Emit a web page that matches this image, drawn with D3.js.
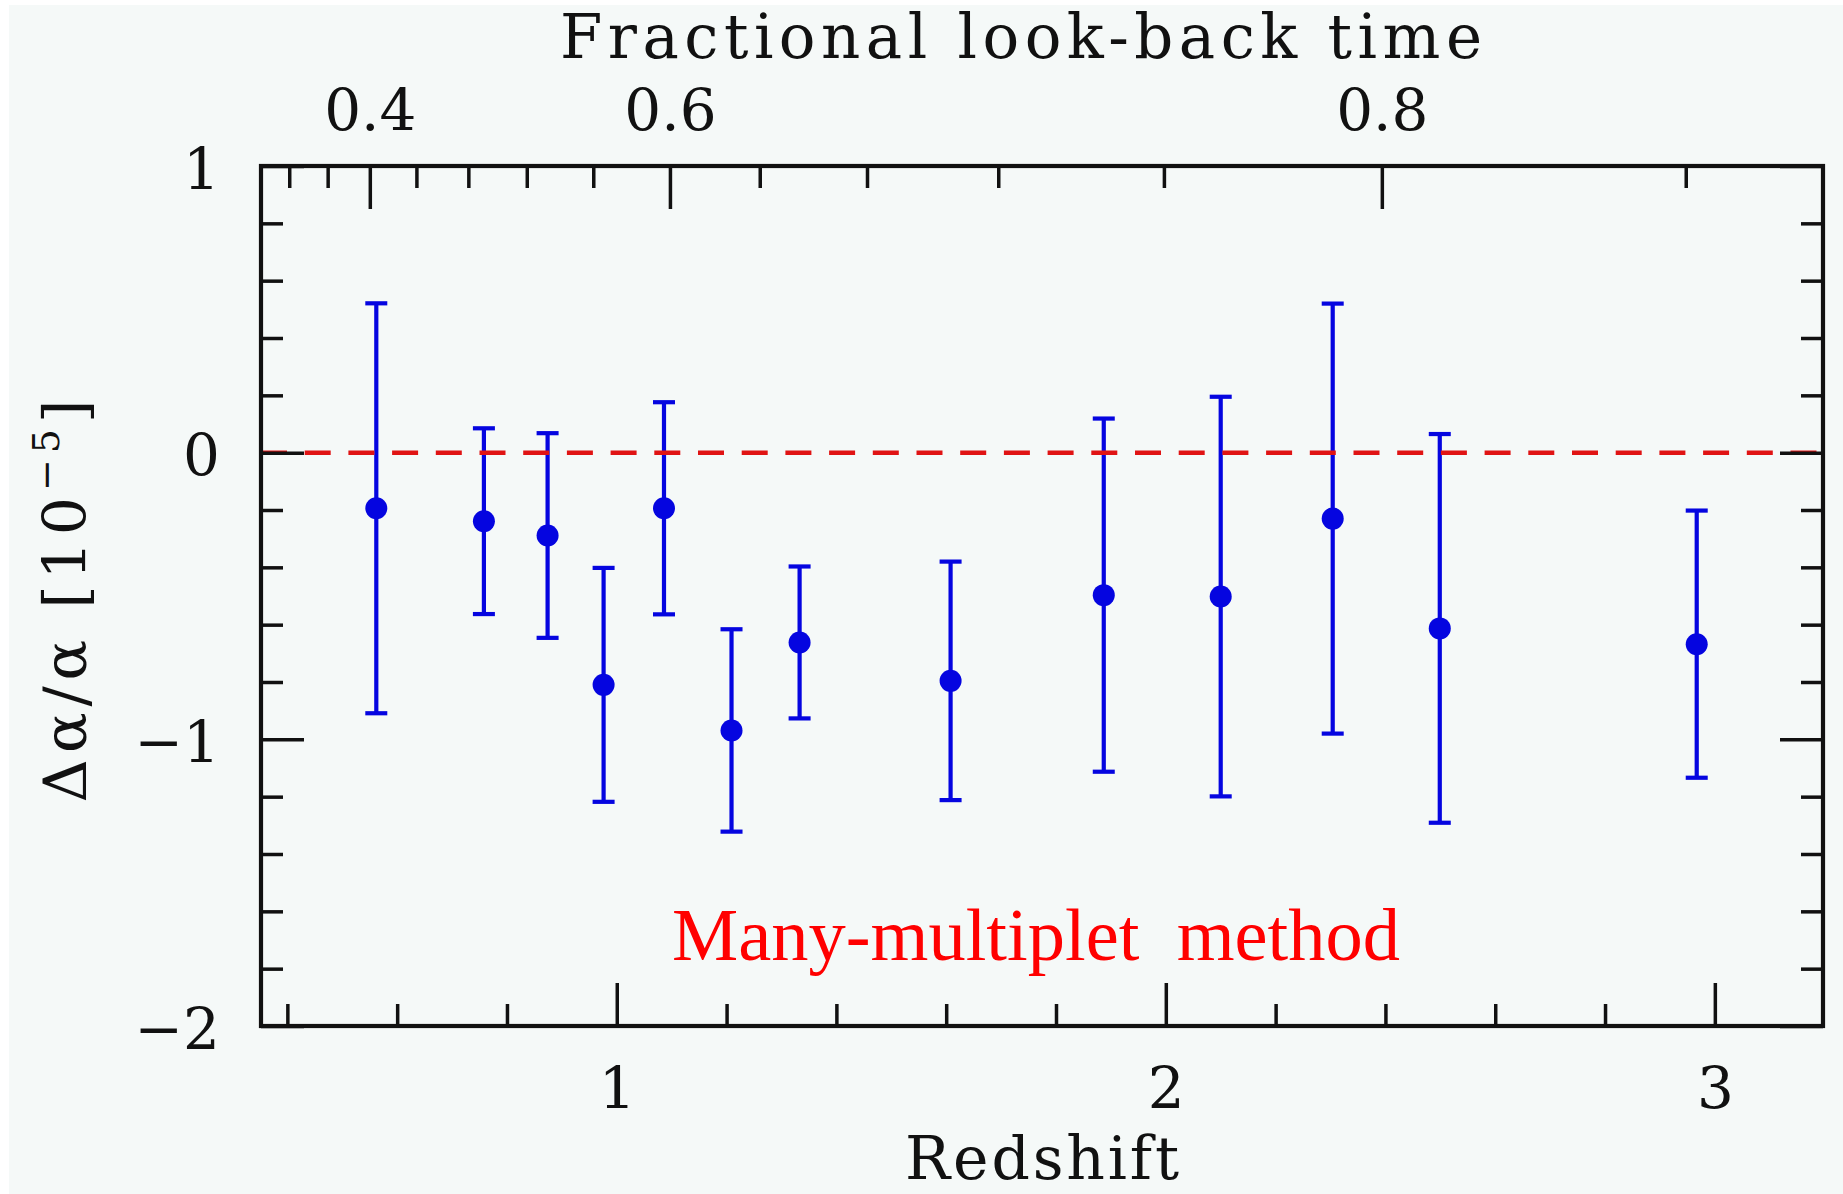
<!DOCTYPE html>
<html>
<head>
<meta charset="utf-8">
<script src="https://cdn.jsdelivr.net/npm/d3@7"></script>
<style>
  html, body { margin: 0; padding: 0; background: #ffffff; }
  svg { display: block; }
  text { font-family: "DejaVu Serif", serif; fill: #111; }
</style>
</head>
<body>
<svg id="chart" width="1843" height="1194"></svg>
<script>
// ---------------- data ----------------
const redshift = [0.562, 0.758, 0.874, 0.976, 1.086, 1.209, 1.333, 1.608, 1.887, 2.100, 2.304, 2.499, 2.967];
const dAlpha   = [-0.194, -0.239, -0.289, -0.810, -0.194, -0.969, -0.662, -0.796, -0.497, -0.502, -0.230, -0.613, -0.668];
const sigma    = [0.715, 0.324, 0.357, 0.408, 0.370, 0.353, 0.265, 0.416, 0.616, 0.697, 0.750, 0.678, 0.466];

// axis ticks
const zMajorTicks = [1, 2, 3];
const zMinorTicks = [0.4, 0.6, 0.8, 1.2, 1.4, 1.6, 1.8, 2.2, 2.4, 2.6, 2.8];
const yMajorTicks = [-2, -1, 0, 1];
const yMinorTicks = [-1.8, -1.6, -1.4, -1.2, -0.8, -0.6, -0.4, -0.2, 0.2, 0.4, 0.6, 0.8];
const lookbackMajorTicks = [0.4, 0.6, 0.8];
const lookbackMinorTicks = [0.32, 0.36, 0.44, 0.48, 0.52, 0.56, 0.64, 0.68, 0.72, 0.76, 0.84];

// texts
const topTitle = "Fractional look-back time";
const bottomTitle = "Redshift";
const methodLabel = "Many-multiplet  method";

// ---------------- layout ----------------
const W = 1843, H = 1194;
const L = 261, R = 1823, T = 166, B = 1026;

const svg = d3.select("#chart");
svg.append("rect").attr("x", 9).attr("y", 5).attr("width", W - 9).attr("height", H - 5).attr("fill", "#f5f9f8");

const x = d3.scaleLinear().domain([0.352, 3.197]).range([L, R]);
const y = d3.scaleLinear().domain([-2, 1]).range([B, T]);

// flat LCDM (Om=0.3, OL=0.7) mapping of fractional look-back time to redshift (top axis transform)
const Om = 0.3, OL = 0.7;
const kk = Math.sqrt(OL / Om), A = Math.asinh(kk);
const lookbackToZ = f => Math.pow(Math.sinh((1 - f) * A) / kk, -2 / 3) - 1;

const blue = "#0505e0";
const fmt = d => d < 0 ? "\u2212" + Math.abs(d) : String(d);

// ---------------- error bars & points ----------------
const pts = redshift.map((z, i) => ({ z, v: dAlpha[i], e: sigma[i] }));
const gErr = svg.append("g").attr("stroke", blue).attr("stroke-width", 4.2).attr("fill", "none");
gErr.selectAll("line.v").data(pts).join("line").attr("class", "v")
  .attr("x1", d => x(d.z)).attr("x2", d => x(d.z))
  .attr("y1", d => y(d.v + d.e)).attr("y2", d => y(d.v - d.e));
gErr.selectAll("line.ct").data(pts).join("line").attr("class", "ct")
  .attr("x1", d => x(d.z) - 11).attr("x2", d => x(d.z) + 11)
  .attr("y1", d => y(d.v + d.e)).attr("y2", d => y(d.v + d.e));
gErr.selectAll("line.cb").data(pts).join("line").attr("class", "cb")
  .attr("x1", d => x(d.z) - 11).attr("x2", d => x(d.z) + 11)
  .attr("y1", d => y(d.v - d.e)).attr("y2", d => y(d.v - d.e));

// zero line
svg.append("line")
  .attr("x1", L).attr("x2", R).attr("y1", y(0)).attr("y2", y(0))
  .attr("stroke", "#e01414").attr("stroke-width", 4.5).attr("stroke-dasharray", "26 17.7");

svg.append("g").selectAll("circle").data(pts).join("circle")
  .attr("cx", d => x(d.z)).attr("cy", d => y(d.v)).attr("r", 11).attr("fill", blue);

// ---------------- axes (ticks inward) ----------------
function styleAxis(g) {
  g.select(".domain").remove();
  g.selectAll(".tick line").attr("stroke", "#111").attr("stroke-width", 3.5);
  g.selectAll(".tick text").attr("fill", "#111").style("font-family", "DejaVu Serif").attr("font-size", 58);
}
const minorLen = 22, majorLen = 43;

// bottom
svg.append("g").attr("transform", `translate(0,${B})`)
  .call(d3.axisBottom(x).tickValues(zMinorTicks).tickSize(-minorLen).tickFormat(""))
  .call(styleAxis);
const gb = svg.append("g").attr("transform", `translate(0,${B})`)
  .call(d3.axisBottom(x).tickValues(zMajorTicks).tickSize(-majorLen).tickFormat(fmt))
  .call(styleAxis);
gb.selectAll(".tick text").attr("y", 82).attr("dy", 0);

// top (fractional look-back time)
svg.append("g").attr("transform", `translate(0,${T})`)
  .call(d3.axisTop(x).tickValues(lookbackMinorTicks.map(lookbackToZ)).tickSize(-minorLen).tickFormat(""))
  .call(styleAxis);
const gt = svg.append("g").attr("transform", `translate(0,${T})`)
  .call(d3.axisTop(x).tickValues(lookbackMajorTicks.map(lookbackToZ)).tickSize(-majorLen)
    .tickFormat((d, i) => lookbackMajorTicks[i].toFixed(1)))
  .call(styleAxis);
gt.selectAll(".tick text").attr("y", -36).attr("dy", 0);

// left
svg.append("g").attr("transform", `translate(${L},0)`)
  .call(d3.axisLeft(y).tickValues(yMinorTicks).tickSize(-minorLen).tickFormat(""))
  .call(styleAxis);
const gl = svg.append("g").attr("transform", `translate(${L},0)`)
  .call(d3.axisLeft(y).tickValues(yMajorTicks).tickSize(-majorLen).tickFormat(fmt))
  .call(styleAxis);
gl.selectAll(".tick text").attr("x", -41).attr("dy", "0.38em");

// right
svg.append("g").attr("transform", `translate(${R},0)`)
  .call(d3.axisRight(y).tickValues(yMinorTicks).tickSize(-minorLen).tickFormat(""))
  .call(styleAxis);
svg.append("g").attr("transform", `translate(${R},0)`)
  .call(d3.axisRight(y).tickValues(yMajorTicks).tickSize(-majorLen).tickFormat(""))
  .call(styleAxis);

// frame
svg.append("rect").attr("x", L).attr("y", T).attr("width", R - L).attr("height", B - T)
  .attr("fill", "none").attr("stroke", "#111").attr("stroke-width", 4.2);

// ---------------- titles ----------------
svg.append("text").attr("x", 1021).attr("y", 58).attr("text-anchor", "middle")
  .attr("font-size", 61).attr("textLength", 922).attr("lengthAdjust", "spacing")
  .text(topTitle);

svg.append("text").attr("x", 1042).attr("y", 1179).attr("text-anchor", "middle")
  .attr("font-size", 60).attr("textLength", 274).attr("lengthAdjust", "spacing")
  .text(bottomTitle);

const yt = svg.append("text").attr("transform", "translate(86,598) rotate(-90)")
  .attr("text-anchor", "middle").attr("font-size", 60).style("letter-spacing", "6px");
yt.append("tspan").text("\u0394\u03b1/\u03b1 [10");
yt.append("tspan").attr("dy", -27).attr("font-size", 38).text("\u22125");
yt.append("tspan").attr("dy", 27).attr("font-size", 60).text("]");

svg.append("text").attr("x", 672).attr("y", 960)
  .style("font-family", "'Liberation Serif', 'Times New Roman', serif")
  .style("white-space", "pre")
  .attr("font-size", 74).attr("fill", "#ff0000").style("fill", "#ff0000")
  .attr("textLength", 728).attr("lengthAdjust", "spacingAndGlyphs")
  .text(methodLabel);
</script>
</body>
</html>
